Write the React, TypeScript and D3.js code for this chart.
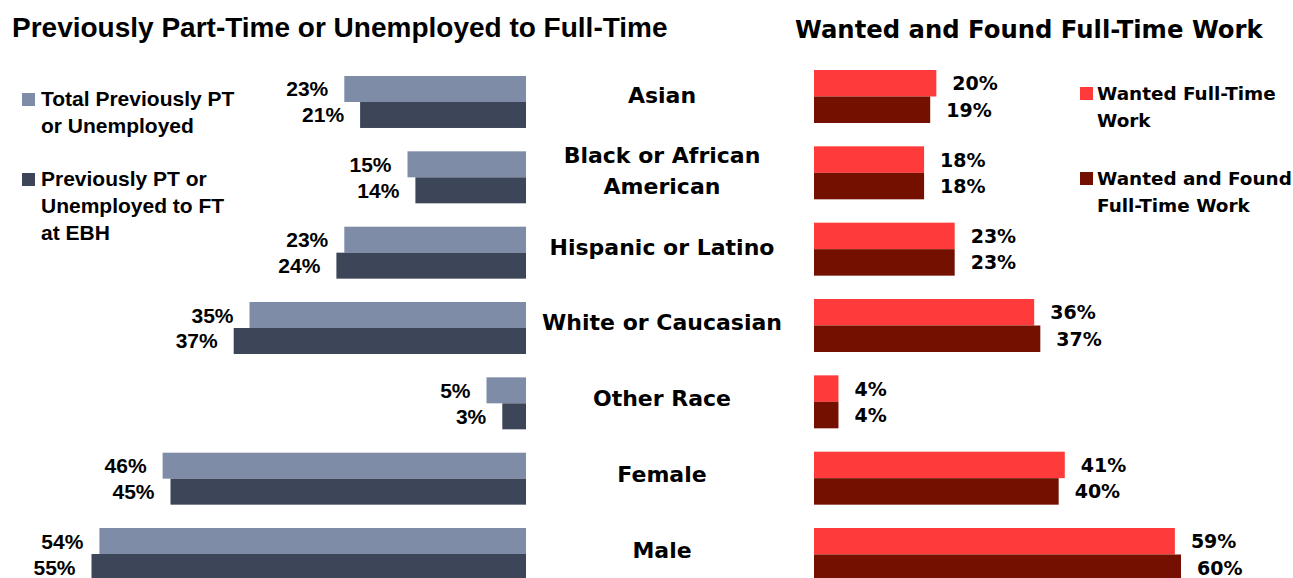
import React, { useRef, useEffect } from "react";
import * as d3 from "d3";

// ----- DATA -----
const categories = [
  "Asian",
  "Black or African American",
  "Hispanic or Latino",
  "White or Caucasian",
  "Other Race",
  "Female",
  "Male",
];
const categoryLines = [
  ["Asian"],
  ["Black or African", "American"],
  ["Hispanic or Latino"],
  ["White or Caucasian"],
  ["Other Race"],
  ["Female"],
  ["Male"],
];
const totalPrevPT = [23, 15, 23, 35, 5, 46, 54];
const prevPTtoFT = [21, 14, 24, 37, 3, 45, 55];
const wantedFT = [20, 18, 23, 36, 4, 41, 59];
const wantedFoundFT = [19, 18, 23, 37, 4, 40, 60];

const leftSeries = [
  { key: "total", name: ["Total Previously PT", "or Unemployed"], values: totalPrevPT, color: "#7f8ca8" },
  { key: "toFT", name: ["Previously PT or", "Unemployed to FT", "at EBH"], values: prevPTtoFT, color: "#3d4659" },
];
const rightSeries = [
  { key: "wanted", name: ["Wanted Full-Time", "Work"], values: wantedFT, color: "#ff3a3a" },
  { key: "found", name: ["Wanted and Found", "Full-Time Work"], values: wantedFoundFT, color: "#731000" },
];

const ARIAL = "'Liberation Sans', Arial, sans-serif";
const WIDE = "'DejaVu Sans', Verdana, sans-serif";

export default function App() {
  const ref = useRef<SVGSVGElement | null>(null);

  useEffect(() => {
    const svg = d3.select(ref.current);
    svg.selectAll("*").remove();

    // ----- LEFT PANEL -----
    const xL = d3.scaleLinear().domain([0, 60]).range([526, 52]);
    const yL = d3.scaleBand().domain(categories).range([76, 580]).paddingInner(0.31).paddingOuter(0);
    const subL = d3.scaleBand().domain(leftSeries.map(s => s.key)).range([0, yL.bandwidth()]);

    svg.append("text")
      .attr("x", 12).attr("y", 37)
      .style("font-family", ARIAL).style("font-weight", "bold").style("font-size", "28px")
      .text("Previously Part-Time or Unemployed to Full-Time");

    leftSeries.forEach(s => {
      const g = svg.append("g");
      g.selectAll("rect")
        .data(s.values)
        .enter()
        .append("rect")
        .attr("x", d => xL(d))
        .attr("y", (d, i) => yL(categories[i])! + subL(s.key)!)
        .attr("width", d => xL(0) - xL(d))
        .attr("height", subL.bandwidth())
        .attr("fill", s.color);

      g.selectAll("text")
        .data(s.values)
        .enter()
        .append("text")
        .attr("x", d => xL(d) - 16)
        .attr("y", (d, i) => yL(categories[i])! + subL(s.key)! + subL.bandwidth() / 2)
        .attr("text-anchor", "end")
        .attr("dominant-baseline", "central")
        .style("font-family", ARIAL).style("font-weight", "bold").style("font-size", "21px")
        .text(d => `${d}%`);
    });

    // left legend
    const legL = d3.scaleOrdinal<string, number>().domain(leftSeries.map(s => s.key)).range([99, 179]);
    leftSeries.forEach(s => {
      const y0 = legL(s.key);
      svg.append("rect")
        .attr("x", 22).attr("y", y0 - 6).attr("width", 13).attr("height", 13)
        .attr("fill", s.color);
      const t = svg.append("text")
        .attr("x", 41).attr("y", y0)
        .style("font-family", ARIAL).style("font-weight", "bold").style("font-size", "21px");
      s.name.forEach((line, i) => {
        t.append("tspan")
          .attr("x", 41)
          .attr("dy", i === 0 ? "0.35em" : "27")
          .text(line);
      });
    });

    // ----- CENTER LABELS -----
    const yR = d3.scaleBand().domain(categories).range([70, 581]).paddingInner(0.306).paddingOuter(0);

    categoryLines.forEach((lines, i) => {
      const cy = (yL(categories[i])! + yR(categories[i])!) / 2 + yL.bandwidth() / 2 - 4;
      const t = svg.append("text")
        .attr("x", 662)
        .attr("y", cy - ((lines.length - 1) * 31) / 2)
        .attr("text-anchor", "middle")
        .style("font-family", WIDE).style("font-weight", "bold").style("font-size", "22px");
      lines.forEach((line, j) => {
        t.append("tspan")
          .attr("x", 662)
          .attr("dy", j === 0 ? "0.36em" : "31")
          .text(line);
      });
    });

    // ----- RIGHT PANEL -----
    const xR = d3.scaleLinear().domain([0, 60]).range([814, 1181]);
    const subR = d3.scaleBand().domain(rightSeries.map(s => s.key)).range([0, yR.bandwidth()]);

    svg.append("text")
      .attr("x", 795).attr("y", 38)
      .style("font-family", WIDE).style("font-weight", "bold").style("font-size", "24.3px")
      .text("Wanted and Found Full-Time Work");

    rightSeries.forEach(s => {
      const g = svg.append("g");
      g.selectAll("rect")
        .data(s.values)
        .enter()
        .append("rect")
        .attr("x", xR(0))
        .attr("y", (d, i) => yR(categories[i])! + subR(s.key)!)
        .attr("width", d => xR(d) - xR(0))
        .attr("height", subR.bandwidth())
        .attr("fill", s.color);

      g.selectAll("text")
        .data(s.values)
        .enter()
        .append("text")
        .attr("x", d => xR(d) + 16)
        .attr("y", (d, i) => yR(categories[i])! + subR(s.key)! + subR.bandwidth() / 2)
        .attr("dominant-baseline", "central")
        .style("font-family", WIDE).style("font-weight", "bold").style("font-size", "19px")
        .text(d => `${d}%`);
    });

    // right legend
    const legR = d3.scaleOrdinal<string, number>().domain(rightSeries.map(s => s.key)).range([93, 178]);
    rightSeries.forEach(s => {
      const y0 = legR(s.key);
      svg.append("rect")
        .attr("x", 1080).attr("y", y0 - 6).attr("width", 13).attr("height", 13)
        .attr("fill", s.color);
      const t = svg.append("text")
        .attr("x", 1097).attr("y", y0)
        .style("font-family", WIDE).style("font-weight", "bold").style("font-size", "18.4px");
      s.name.forEach((line, i) => {
        t.append("tspan")
          .attr("x", 1097)
          .attr("dy", i === 0 ? "0.36em" : "27")
          .text(line);
      });
    });
  }, []);

  return (
    <svg
      ref={ref}
      width={1293}
      height={578}
      style={{ position: "absolute", left: 0, top: 0, background: "#fff" }}
    />
  );
}
